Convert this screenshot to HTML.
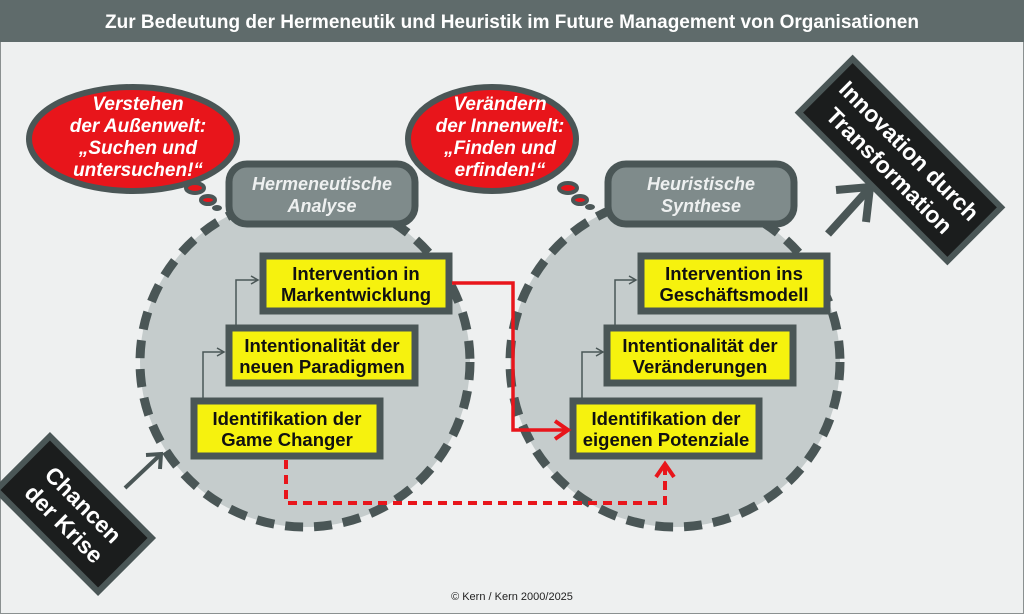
<!DOCTYPE html>
<html><head><meta charset="utf-8"><style>
body{margin:0;width:1024px;height:614px;overflow:hidden;background:#eef0f0;}
svg{display:block}
text{font-family:"Liberation Sans",sans-serif}
</style></head><body>
<svg width="1024" height="614" viewBox="0 0 1024 614">
<defs>
<marker id="ag" markerWidth="10" markerHeight="10" refX="8" refY="5" orient="auto" markerUnits="userSpaceOnUse"><path d="M1,1 L8,5 L1,9" fill="none" stroke="#4a5656" stroke-width="1.5"/></marker>
<marker id="ar" markerWidth="22" markerHeight="22" refX="17" refY="11" orient="auto" markerUnits="userSpaceOnUse"><path d="M4,2 L17,11 L4,20" fill="none" stroke="#e8151b" stroke-width="4"/></marker>
</defs>
<rect x="0" y="0" width="1024" height="614" fill="#eef0f0" stroke="#8a9090" stroke-width="2"/>
<rect x="0" y="0" width="1024" height="42" fill="#5f6b6b"/>
<text x="512" y="28" font-size="19" font-weight="bold" fill="#fff" text-anchor="middle">Zur Bedeutung der Hermeneutik und Heuristik im Future Management von Organisationen</text>

<circle cx="305" cy="362" r="165" fill="#c5cccc" stroke="#4a5656" stroke-width="9" stroke-dasharray="18,11"/>
<circle cx="675" cy="362" r="165" fill="#c5cccc" stroke="#4a5656" stroke-width="9" stroke-dasharray="18,11"/>

<!-- bubbles -->
<ellipse cx="133" cy="139" rx="104" ry="52" fill="#e8151b" stroke="#4a5656" stroke-width="6"/>
<ellipse cx="195" cy="188" rx="9" ry="5" fill="#e8151b" stroke="#4a5656" stroke-width="4"/>
<ellipse cx="208" cy="200" rx="7" ry="4" fill="#e8151b" stroke="#4a5656" stroke-width="4"/>
<ellipse cx="217" cy="208" rx="5" ry="3" fill="#4a5656"/>
<g font-size="19" font-weight="bold" font-style="italic" fill="#fff" text-anchor="middle">
<text x="138" y="110">Verstehen</text><text x="138" y="132">der Außenwelt:</text><text x="138" y="154">„Suchen und</text><text x="138" y="176">untersuchen!“</text></g>
<ellipse cx="492" cy="139" rx="84" ry="52" fill="#e8151b" stroke="#4a5656" stroke-width="6"/>
<ellipse cx="568" cy="188" rx="9" ry="5" fill="#e8151b" stroke="#4a5656" stroke-width="4"/>
<ellipse cx="580" cy="200" rx="7" ry="4" fill="#e8151b" stroke="#4a5656" stroke-width="4"/>
<ellipse cx="590" cy="207" rx="5" ry="3" fill="#4a5656"/>
<g font-size="19" font-weight="bold" font-style="italic" fill="#fff" text-anchor="middle">
<text x="500" y="110">Verändern</text><text x="500" y="132">der Innenwelt:</text><text x="500" y="154">„Finden und</text><text x="500" y="176">erfinden!“</text></g>

<!-- pills -->
<rect x="229" y="164" width="186" height="60" rx="18" fill="#7f8b8b" stroke="#4a5656" stroke-width="7"/>
<g font-size="18" font-style="italic" font-weight="bold" fill="#eef0f0" text-anchor="middle"><text x="322" y="190">Hermeneutische</text><text x="322" y="212">Analyse</text></g>
<rect x="608" y="164" width="186" height="60" rx="18" fill="#7f8b8b" stroke="#4a5656" stroke-width="7"/>
<g font-size="18" font-style="italic" font-weight="bold" fill="#eef0f0" text-anchor="middle"><text x="701" y="190">Heuristische</text><text x="701" y="212">Synthese</text></g>

<!-- connectors -->
<g fill="none" stroke="#4a5656" stroke-width="1.5">
<path d="M236,325 V280 H258" marker-end="url(#ag)"/>
<path d="M203,398 V352 H224" marker-end="url(#ag)"/>
<path d="M615,325 V280 H636" marker-end="url(#ag)"/>
<path d="M582,398 V352 H603" marker-end="url(#ag)"/>
</g>

<!-- boxes -->
<g stroke="#4a5656" stroke-width="7" fill="#f6f20e">
<rect x="263" y="256" width="186" height="55"/>
<rect x="229" y="328" width="186" height="55"/>
<rect x="194" y="401" width="186" height="55"/>
<rect x="641" y="256" width="186" height="55"/>
<rect x="607" y="328" width="186" height="55"/>
<rect x="573" y="401" width="186" height="55"/>
</g>
<g font-size="18.5" font-weight="bold" fill="#111" text-anchor="middle">
<text x="356" y="280">Intervention in</text><text x="356" y="301">Markentwicklung</text>
<text x="322" y="352">Intentionalität der</text><text x="322" y="373">neuen Paradigmen</text>
<text x="287" y="425">Identifikation der</text><text x="287" y="446">Game Changer</text>
<text x="734" y="280">Intervention ins</text><text x="734" y="301">Geschäftsmodell</text>
<text x="700" y="352">Intentionalität der</text><text x="700" y="373">Veränderungen</text>
<text x="666" y="425">Identifikation der</text><text x="666" y="446">eigenen Potenziale</text>
</g>

<!-- red connectors -->
<path d="M452,283 H513 V430 H568" fill="none" stroke="#e8151b" stroke-width="3.5" marker-end="url(#ar)"/>
<path d="M286,460 V503 H665 V464" fill="none" stroke="#e8151b" stroke-width="4" stroke-dasharray="9,6" marker-end="url(#ar)"/>

<!-- Chancen -->
<line x1="125" y1="488" x2="160" y2="455" stroke="#4a5656" stroke-width="4"/>
<path d="M146,455 L161,454 L160,469" fill="none" stroke="#4a5656" stroke-width="4"/>
<g transform="translate(74,514) rotate(45)">
<rect x="-72" y="-38" width="144" height="76" fill="#1b1d1d" stroke="#4a5656" stroke-width="6"/>
<g font-size="23" font-weight="bold" fill="#fff" text-anchor="middle"><text x="0" y="-5">Chancen</text><text x="0" y="22">der Krise</text></g>
</g>

<!-- Innovation -->
<line x1="828" y1="234" x2="866" y2="192" stroke="#4a5656" stroke-width="8"/>
<path d="M836,190 L870,187 L866,222" fill="none" stroke="#4a5656" stroke-width="8" stroke-linejoin="miter"/>
<g transform="translate(900,160) rotate(45)">
<rect x="-105" y="-38" width="210" height="76" fill="#1b1d1d" stroke="#4a5656" stroke-width="6"/>
<g font-size="23" font-weight="bold" fill="#fff" text-anchor="middle"><text x="0" y="-5">Innovation durch</text><text x="0" y="23">Transformation</text></g>
</g>

<text x="512" y="600" font-size="11" fill="#222" text-anchor="middle">© Kern / Kern 2000/2025</text>
</svg>
</body></html>
